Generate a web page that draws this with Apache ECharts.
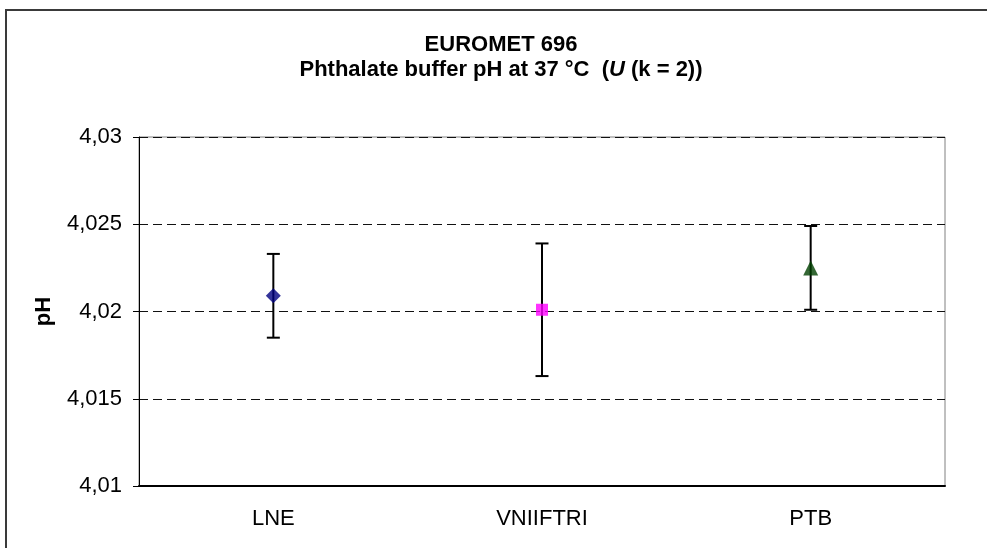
<!DOCTYPE html>
<html lang="en">
  <head>
    <meta charset="UTF-8" />
    <title>EUROMET 696</title>
    <script src="https://cdn.jsdelivr.net/npm/echarts@6/dist/echarts.min.js"></script>
    <style>
      body { margin: 0; background: #fff; }
    </style>
  </head>
  <body>
    <div id="main" style="width: 987px; height: 548px"></div>
    <script type="text/javascript">
      // values
      const categories = ["LNE", "VNIIFTRI", "PTB"];
      const phValues = [4.0209, 4.0201, 4.0225];
      const expandedU = [0.0024, 0.0038, 0.0024]; // U (k = 2)
      const yTickLabels = ["4,01", "4,015", "4,02", "4,025", "4,03"];
      const markers = ["diamond", "rect", "triangle"];
      const markerSizes = [[15, 15], [12, 12], [15, 15]];
      const markerColors = ["#000080", "#ff00ff", "#004000"];

      const font = "'Liberation Sans', Arial, sans-serif";

      const pointData = phValues.map((v, i) => ({
        value: [i, v],
        symbol: markers[i],
        symbolSize: markerSizes[i],
        itemStyle: { color: markerColors[i] },
      }));
      const barData = phValues.map((v, i) => [i, v - expandedU[i], v + expandedU[i]]);

      let options = {
        animation: false,
        backgroundColor: "#fff",
        textStyle: { fontFamily: font },
        graphic: [
          {
            type: "rect",
            z: -10,
            shape: { x: 6, y: 10, width: 1200, height: 800 },
            style: { fill: null, stroke: "#3a3a3a", lineWidth: 2 },
          },
        ],
        title: {
          left: 496,
          top: 27,
          textAlign: "center",
          text: "{a|EUROMET 696}\n{a|Phthalate buffer pH at 37 °C  (}{i|U}{a| (k = 2))}",
          textStyle: {
            rich: {
              a: { fontFamily: font, fontSize: 22, fontWeight: "bold", color: "#000", lineHeight: 25 },
              i: { fontFamily: font, fontSize: 22, fontWeight: "bold", fontStyle: "italic", color: "#000", lineHeight: 25 },
            },
          },
        },
        grid: {
          left: 139,
          right: 42,
          top: 137,
          bottom: 62,
          show: true,
          borderColor: "#808080",
          borderWidth: 1,
        },
        xAxis: {
          type: "category",
          data: categories,
          boundaryGap: true,
          axisLine: { lineStyle: { color: "#000", width: 2 } },
          axisTick: { length: 7, lineStyle: { color: "#000" } },
          axisLabel: { margin: 22, fontSize: 22, color: "#000", fontFamily: font },
          splitLine: { show: false },
        },
        yAxis: {
          type: "value",
          min: 4.01,
          max: 4.03,
          interval: 0.005,
          name: "pH",
          nameLocation: "middle",
          nameGap: 84,
          nameRotate: 90,
          nameTextStyle: { fontSize: 22, fontWeight: "bold", color: "#000", fontFamily: font },
          axisLine: { show: true, lineStyle: { color: "#000", width: 1 } },
          axisTick: { show: true, length: 6, lineStyle: { color: "#000" } },
          axisLabel: {
            margin: 17,
            fontSize: 22,
            color: "#000",
            fontFamily: font,
            formatter: (v) => yTickLabels[Math.round((v - 4.01) / 0.005)],
          },
          splitLine: { show: true, lineStyle: { color: "#111", type: [9, 5], width: 1 } },
        },
        series: [
          {
            type: "custom",
            name: "U",
            data: barData,
            z: 2,
            renderItem: (params, api) => {
              const x = api.value(0);
              const lo = api.coord([x, api.value(1)]);
              const hi = api.coord([x, api.value(2)]);
              const hw = 6.5;
              const st = { stroke: "#000", lineWidth: 2 };
              return {
                type: "group",
                children: [
                  { type: "line", shape: { x1: lo[0], y1: lo[1], x2: hi[0], y2: hi[1] }, style: st },
                  { type: "line", shape: { x1: lo[0] - hw, y1: lo[1], x2: lo[0] + hw, y2: lo[1] }, style: st },
                  { type: "line", shape: { x1: hi[0] - hw, y1: hi[1], x2: hi[0] + hw, y2: hi[1] }, style: st },
                ],
              };
            },
          },
          {
            type: "scatter",
            name: "pH",
            data: pointData,
            z: 3,
          },
        ],
      };
      let myChart = echarts.init(document.getElementById("main"));
      myChart.setOption(options);
    </script>
  </body>
</html>
